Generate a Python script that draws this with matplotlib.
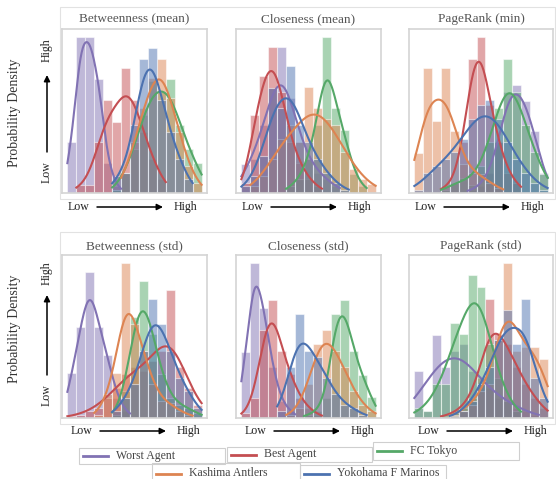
import numpy as np
import matplotlib
matplotlib.use("Agg")
import matplotlib.pyplot as plt
from matplotlib.patches import Rectangle

plt.rcParams["font.family"] = ["Liberation Serif", "DejaVu Serif"]

# -------------------------------------------------
# Data: bar heights per bin (15 bins, low -> high)
# -------------------------------------------------
series = ["Worst Agent", "Best Agent", "FC Tokyo", "Kashima Antlers", "Yokohama F Marinos"]
colors = ["#8172B3", "#C44E52", "#55A868", "#DD8452", "#4C72B0"]
titles = ["Betweenness (mean)", "Closeness (mean)", "PageRank (min)",
          "Betweenness (std)", "Closeness (std)", "PageRank (std)"]

betweenness_mean = [
    [152, 462, 462, 337, 90, 20, 0, 0, 0, 0, 0, 0, 0, 0, 0],
    [0, 25, 25, 150, 275, 210, 370, 275, 180, 100, 40, 0, 0, 0, 0],
    [0, 0, 0, 0, 0, 10, 60, 130, 230, 330, 300, 337, 200, 130, 90],
    [0, 0, 0, 0, 0, 0, 60, 150, 250, 340, 397, 280, 180, 80, 30],
    [0, 0, 0, 0, 0, 50, 60, 200, 397, 430, 275, 180, 100, 40, 0],
]
closeness_mean = [
    [85, 100, 200, 310, 432, 280, 150, 100, 60, 40, 20, 0, 0, 0, 0],
    [30, 230, 345, 432, 300, 150, 90, 40, 20, 0, 0, 0, 0, 0, 0],
    [0, 0, 0, 0, 0, 20, 40, 100, 200, 462, 250, 187, 57, 20, 0],
    [0, 20, 50, 100, 160, 200, 150, 314, 250, 220, 200, 120, 70, 40, 27],
    [20, 50, 110, 310, 250, 375, 200, 150, 100, 60, 30, 10, 0, 0, 0],
]
pagerank_min = [
    [0, 0, 0, 0, 0, 0, 10, 20, 60, 150, 300, 320, 272, 182, 60],
    [0, 0, 0, 20, 30, 150, 397, 462, 260, 150, 60, 30, 0, 0, 0],
    [0, 0, 0, 10, 30, 45, 25, 80, 150, 250, 397, 300, 200, 120, 57],
    [117, 369, 212, 369, 182, 87, 60, 55, 30, 15, 0, 0, 0, 0, 0],
    [10, 60, 80, 100, 120, 160, 220, 260, 275, 220, 150, 100, 60, 30, 10],
]
betweenness_std = [
    [132, 269, 432, 269, 187, 60, 20, 0, 0, 0, 0, 0, 0, 0, 0],
    [5, 10, 20, 30, 60, 90, 130, 150, 140, 170, 200, 379, 150, 90, 40],
    [0, 0, 0, 0, 0, 10, 80, 300, 407, 250, 130, 60, 40, 30, 15],
    [0, 0, 0, 10, 70, 132, 460, 280, 200, 100, 50, 45, 20, 10, 0],
    [0, 0, 0, 0, 0, 20, 60, 100, 200, 352, 280, 200, 120, 80, 30],
]
closeness_std = [
    [197, 460, 327, 150, 50, 20, 0, 0, 0, 0, 0, 0, 0, 0, 0],
    [15, 60, 262, 349, 200, 130, 60, 30, 10, 0, 0, 0, 0, 0, 0],
    [0, 0, 0, 0, 0, 0, 0, 10, 20, 60, 307, 349, 200, 127, 62],
    [0, 0, 0, 0, 0, 10, 30, 100, 220, 260, 200, 150, 80, 40, 20],
    [0, 0, 0, 0, 20, 150, 307, 200, 180, 120, 70, 40, 30, 10, 0],
]
pagerank_std = [
    [139, 20, 247, 150, 200, 220, 140, 100, 90, 60, 50, 30, 20, 10, 0],
    [0, 0, 0, 5, 15, 30, 60, 120, 352, 250, 220, 150, 100, 60, 30],
    [30, 20, 100, 102, 282, 250, 425, 389, 220, 120, 50, 20, 0, 0, 0],
    [0, 0, 0, 0, 10, 20, 40, 80, 100, 230, 460, 200, 210, 210, 175],
    [0, 0, 0, 0, 5, 20, 50, 100, 150, 230, 320, 220, 352, 120, 60],
]
panels = [betweenness_mean, closeness_mean, pagerank_min,
          betweenness_std, closeness_std, pagerank_std]


def kde_from_bins(heights, factor=0.55, n=200):
    h = np.asarray(heights, dtype=float)
    centers = np.arange(len(h)) + 0.5
    nz = np.nonzero(h)[0]
    lo, hi = nz[0], nz[-1] + 1
    mean = np.sum(h * centers) / h.sum()
    std = np.sqrt(np.sum(h * (centers - mean) ** 2) / h.sum() + 1 / 12)
    bw = factor * std
    x = np.linspace(lo, hi, n)
    y = np.sum(h[None, :] * np.exp(-0.5 * ((x[:, None] - centers[None, :]) / bw) ** 2), axis=1)
    y /= bw * np.sqrt(2 * np.pi)
    return x, y


# -------------------------------------------------
# Figure (pixel layout)
# -------------------------------------------------
W, H = 556, 479
fig = plt.figure(figsize=(W / 100, H / 100), dpi=100)

ov = fig.add_axes([0, 0, 1, 1], zorder=0)
ov.set_xlim(0, W)
ov.set_ylim(H, 0)
ov.axis("off")

col_x = [(62, 207), (236, 381), (409, 553)]
row_y = [(29, 193), (255, 418)]

for k, data in enumerate(panels):
    r, c = divmod(k, 3)
    x0, x1 = col_x[c]
    y0, y1 = row_y[r]
    ax = fig.add_axes([x0 / W, 1 - y1 / H, (x1 - x0) / W, (y1 - y0) / H], zorder=2)
    nb = len(data[0])
    for heights, col in zip(data, colors):
        ax.bar(np.arange(nb), heights, width=1.0, align="edge", color=col,
               alpha=0.5, edgecolor="white", linewidth=0.8)
    for heights, col in zip(data, colors):
        kx, ky = kde_from_bins(heights)
        ax.plot(kx, ky, color=col, lw=1.5)
    top = max(max(h) for h in data)
    ax.set_ylim(0, top * 1.05)
    ax.set_xlim(-0.6, nb + 0.6)
    ax.set_xticks([])
    ax.set_yticks([])
    for sp in ax.spines.values():
        sp.set_color("#d4d4d4")
        sp.set_linewidth(1.2)
    ov.text((x0 + x1) / 2, y0 - 10 if r == 0 else y0 - 9, titles[k],
            ha="center", va="center", fontsize=9.5, color="#555555")

    # Low -> High under each panel
    ty = 207 if r == 0 else 431
    off = 0 if r == 0 else 3
    ov.text(x0 + 6 + off, ty, "Low", ha="left", va="center", fontsize=8.6, color="#222222")
    ov.text(x0 + 135 + off, ty, "High", ha="right", va="center", fontsize=8.6, color="#222222")
    ov.annotate("", xy=(x0 + 101 + off, ty), xytext=(x0 + 35 + off, ty),
                arrowprops=dict(arrowstyle="-|>", color="black", lw=1.1,
                                mutation_scale=9, shrinkA=0, shrinkB=0))

# outer light frames around each row
for fy0, fy1 in [(7, 199), (232, 424)]:
    ov.add_patch(Rectangle((60, fy0), W - 61, fy1 - fy0, fill=False,
                           edgecolor="#e2e2e2", lw=0.8))

# y-axis annotations
for cy, hy, lo_y, a_tail, a_tip in [(113, 50, 172, 152, 75), (329, 273, 395, 375, 295)]:
    ov.text(15, cy, "Probability Density", rotation=90, ha="center", va="center",
            fontsize=10, color="#333333")
    ov.text(47, hy, "High", rotation=90, ha="center", va="center", fontsize=8.6, color="#222222")
    ov.text(47, lo_y, "Low", rotation=90, ha="center", va="center", fontsize=8.6, color="#222222")
    ov.annotate("", xy=(47, a_tip), xytext=(47, a_tail),
                arrowprops=dict(arrowstyle="-|>", color="black", lw=1.1,
                                mutation_scale=9, shrinkA=0, shrinkB=0))

# legend boxes (one per entry)
legend_boxes = [
    (79, 448, 225, 464),
    (227, 447, 372, 462),
    (373, 442, 519, 460),
    (152, 463, 300, 485),
    (300, 465, 446, 485),
]
for (bx0, by0, bx1, by1), name, col in zip(legend_boxes, series, colors):
    ov.add_patch(Rectangle((bx0, by0), bx1 - bx0, by1 - by0, fill=False,
                           edgecolor="#cfcfcf", lw=0.8))
    ly = min((by0 + by1) / 2, 473.5)
    ov.plot([bx0 + 4, bx0 + 29], [ly, ly], color=col, lw=2)
    ov.text(bx0 + 37, ly, name, ha="left", va="center", fontsize=8.5, color="#444444")

fig.savefig("out.png", dpi=100, facecolor="white")
plt.close(fig)
